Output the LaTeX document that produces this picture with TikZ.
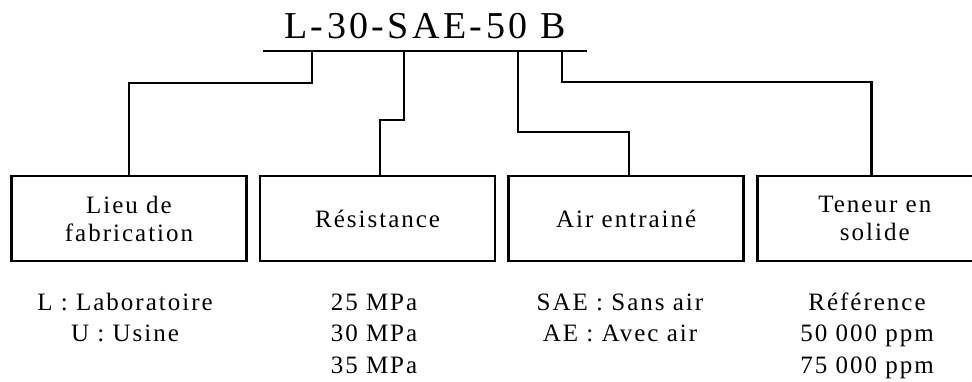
\documentclass[tikz,border=0pt]{standalone}
\usepackage{fontspec}
\setmainfont{Liberation Serif}
\usetikzlibrary{positioning}
\newcommand{\cadrefont}{\fontsize{25}{28}\selectfont\addfontfeature{LetterSpace=8}}
\newcommand{\listefont}{\fontsize{25}{31.5}\selectfont\addfontfeature{LetterSpace=8}}
\newcommand{\titrefont}{\fontsize{38}{40}\selectfont\addfontfeature{LetterSpace=9}}

\begin{document}
\begin{tikzpicture}[
			x=1pt, y=-1pt, line width=2.6pt,
			codebox/.style={draw,minimum width=235pt,minimum height=85pt,inner sep=2pt,align=center,font=\cadrefont}, % one box per field
			choix/.style={anchor=base,inner sep=0pt,align=center,font=\listefont}, % possible values (base = last line)
			link/.style={line width=2.4pt},
		]
		\useasboundingbox (0,0) rectangle (972,381);
		\clip (0,0) rectangle (972,381);

		% --- the code and its underline
		\node[anchor=base,inner sep=0pt,font=\titrefont] (titre) at (425,38) {L-30-SAE-50 B};
		\coordinate (ulg) at (263,51);
		\coordinate (uld) at (587,51);
		\draw[line width=2.8pt] (ulg) -- (uld);

		% --- where each field leaves the underline
		\coordinate (t1) at (312,51);
		\coordinate (t2) at (404,51);
		\coordinate (t3) at (518,51);
		\coordinate (t4) at (562,51);

		% --- the four fields
		\node[codebox] (lieu) at (129,218.5) {Lieu de\\fabrication};
		\node[codebox,right=11pt of lieu] (resist) {Résistance};
		\node[codebox,right=11pt of resist] (air) {Air entrainé};
		\node[codebox,right=11pt of air] (teneur) {Teneur en\\solide};

		% --- links from the code down to the fields
		\draw[link] (t1) -- ++(0,32) -| (lieu.north);
		\draw[link] (t2) -- ++(0,69) -| ([xshift=2.5pt]resist.north);
		\draw[link] (t3) -- ++(0,81) -| ([xshift=2.5pt]air.north);
		\draw[link] (t4) -- ++(0,31) -| ([xshift=-3.5pt]teneur.north);

		% --- values under each field
		\node[choix] (lieuval) at (125,341.5) {L : Laboratoire\\U : Usine};
		\node[choix] (resval) at (374,373) {25 MPa\\30 MPa\\35 MPa};
		\node[choix] (airval) at (620,341.5) {SAE : Sans air\\AE : Avec air};
		\node[choix] (tenval) at (867,373) {Référence\\50 000 ppm\\75 000 ppm};
	\end{tikzpicture}
\end{document}
